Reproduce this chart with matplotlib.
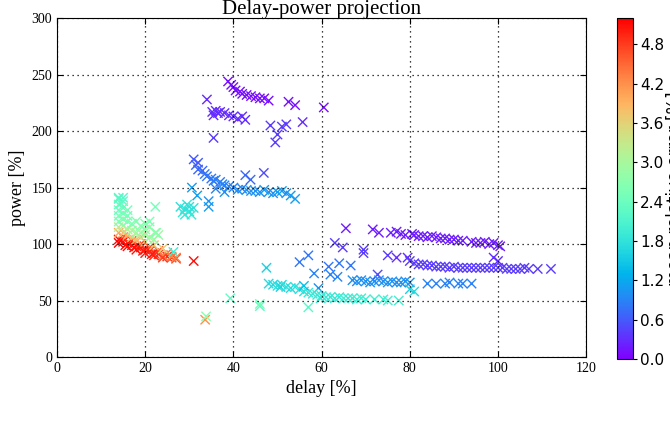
import matplotlib
matplotlib.use("Agg")
import matplotlib.pyplot as plt

# delay [%], power [%], mean relative error [%] per configuration
# left cluster (red -> yellow -> green)
delay_a = [14, 15, 16, 17, 18, 19, 20, 21, 22, 23, 24, 25, 26, 27,
           15, 17, 19, 21, 23, 25, 24, 26, 27,
           14, 16, 18, 20, 22, 24, 15.5, 17.5, 19.5, 21.5,
           14, 15, 16, 17, 18, 20, 22, 24, 19,
           14, 15, 16, 17, 18, 19, 20, 21, 22, 20, 21, 23, 22.3, 20, 21,
           14, 14, 14, 14, 14, 15, 15, 15, 15, 16, 16, 17, 18, 19, 16, 22.3, 22.5,
           14, 15, 14.5, 26.4, 31, 39.3, 33.6, 33.8, 46, 46]
power_a = [104, 102, 101, 99, 98, 97, 95, 94, 92, 91, 90, 89, 88, 87,
           106, 103, 100, 97, 94, 92, 90, 89, 88,
           101, 98, 95, 92, 90, 88, 99, 97, 94, 91,
           110, 110, 108, 106, 104, 102, 99, 96, 106,
           115, 116, 113, 112, 110, 110, 108, 106, 104, 113, 115, 108, 110, 118, 120,
           120, 125, 130, 135, 140, 138, 132, 127, 122, 125, 120, 118, 120, 116, 130, 133, 110,
           141, 141, 136, 93, 85, 52, 33, 36, 45, 47]
error_a = [5.1, 5.1, 5.0, 5.1, 5.0, 5.0, 5.1, 5.0, 5.0, 4.9, 4.8, 4.9, 4.8, 4.7,
           4.9, 4.8, 4.8, 4.7, 4.6, 4.5, 4.3, 4.3, 4.4,
           5.2, 5.1, 5.1, 5.0, 4.9, 4.8, 5.1, 5.1, 5.0, 5.0,
           4.0, 3.9, 3.9, 3.8, 3.8, 3.7, 3.7, 3.6, 3.9,
           3.2, 3.1, 3.1, 3.0, 3.0, 2.9, 3.0, 2.9, 2.9, 2.8, 2.8, 2.9, 2.8, 2.7, 2.6,
           2.6, 2.5, 2.4, 2.4, 2.3, 2.3, 2.4, 2.5, 2.6, 2.5, 2.6, 2.6, 2.6, 2.7, 2.5, 2.5, 2.7,
           2.2, 2.2, 2.3, 2.0, 5.1, 2.3, 4.2, 2.7, 2.3, 2.5]

# teal cluster near 30 %
delay_b = [28, 28.5, 29, 29.5, 30, 30.5, 31, 29, 30]
power_b = [133, 128, 131, 135, 129, 126, 132, 126, 133]
error_b = [1.8, 1.9, 1.8, 1.9, 1.8, 1.9, 1.8, 1.9, 1.8]

# blue cluster around power 150
delay_c = [31, 31.5, 32, 32, 33, 33.5, 34, 35, 35.5, 36, 37, 37.5, 38, 39, 40,
           41, 42, 43, 44, 45, 46, 47, 48, 49, 50, 51, 52, 53, 54,
           42.7, 43.9, 46.9, 30.6, 31.8, 34.4, 34.4, 36, 38]
power_c = [175, 170, 172, 166, 165, 162, 160, 158, 156, 157, 155, 153, 152, 151, 150,
           148, 149, 148, 147, 147, 146, 148, 146, 145, 146, 147, 145, 143, 140,
           161, 157, 163, 150, 143, 138, 133, 149, 146]
error_c = [0.6, 0.7, 0.6, 0.7, 0.7, 0.8, 0.8, 0.8, 0.8, 0.9, 0.8, 0.9, 0.9, 0.9, 0.9,
           1.0, 0.9, 1.0, 1.0, 1.0, 1.0, 1.1, 1.0, 1.0, 1.1, 1.1, 1.0, 1.1, 1.1,
           0.7, 0.7, 0.5, 1.1, 1.1, 1.0, 1.1, 0.9, 1.0]

# purple cluster at high power
delay_d = [38.8, 39.5, 40, 40.5, 41.5, 42, 43, 44, 45, 46, 47, 48, 52.5, 54, 60.5,
           34, 35.2, 35.5, 36, 36.5, 37, 38, 39, 40, 42.7, 41, 42, 35.5,
           48.4, 51, 50, 49.5, 55.7, 52]
power_d = [244, 241, 239, 236, 235, 233, 232, 231, 230, 229, 229, 227, 226, 223, 221,
           228, 217, 214, 218, 216, 217, 216, 214, 213, 210, 211, 213, 194,
           205, 204, 197, 190, 208, 206]
error_d = [0.1, 0.1, 0.1, 0.1, 0.1, 0.1, 0.1, 0.1, 0.1, 0.1, 0.1, 0.1, 0.1, 0.1, 0.1,
           0.3, 0.3, 0.3, 0.3, 0.3, 0.3, 0.3, 0.3, 0.3, 0.3, 0.3, 0.3, 0.4,
           0.4, 0.4, 0.4, 0.4, 0.3, 0.4]

# purple rows at mid power
delay_e = [65.5, 71.6, 73, 75.7, 77, 78, 79, 80.5, 81, 82, 83, 84, 85, 86, 87, 88, 89, 90,
           91, 92, 94, 95, 96, 97, 98, 99, 100, 100.5,
           63, 64.8, 69.5, 69.5, 75, 77, 79.5, 80, 81, 82, 83, 84, 85, 86, 87, 88, 89, 90,
           91, 92, 93, 94, 95, 96, 97, 98, 99, 100, 101, 102, 103, 104, 105, 106, 107,
           109, 112, 99, 100]
power_e = [114, 113, 110, 110, 111, 109, 108, 109, 108, 107, 107, 106, 107, 106, 105, 105, 104, 104,
           103, 103, 102, 101, 101, 102, 100, 101, 99, 98,
           101, 97, 95, 92, 90, 88, 88, 85, 83, 82, 82, 81, 81, 80, 80, 80, 79, 80,
           79, 79, 79, 79, 79, 79, 79, 79, 79, 79, 79, 78, 78, 78, 78, 79, 78,
           78, 78, 88, 85]
error_e = [0.2, 0.2, 0.2, 0.2, 0.2, 0.2, 0.2, 0.2, 0.2, 0.2, 0.2, 0.2, 0.2, 0.2, 0.2, 0.2, 0.2, 0.2,
           0.2, 0.2, 0.2, 0.2, 0.2, 0.2, 0.2, 0.2, 0.2, 0.2,
           0.4, 0.4, 0.4, 0.4, 0.4, 0.3, 0.3, 0.4, 0.4, 0.4, 0.4, 0.4, 0.4, 0.4, 0.4, 0.4, 0.4, 0.4,
           0.4, 0.4, 0.4, 0.4, 0.4, 0.4, 0.4, 0.4, 0.4, 0.4, 0.4, 0.4, 0.4, 0.4, 0.4, 0.4, 0.4,
           0.4, 0.4, 0.3, 0.3]

# blue row at power ~65
delay_f = [55, 57, 58.3, 61.6, 64, 66.6, 62, 63.6, 67, 68, 69, 70, 71, 72, 72.7, 73, 74,
           75, 76, 77, 78, 79, 80, 84, 86, 88, 89, 91, 92, 94, 59.3]
power_f = [84, 90, 74, 80, 83, 81, 73, 71, 68, 67, 68, 67, 66, 67, 73, 68, 67,
           66, 67, 66, 66, 67, 66, 65, 65, 65, 66, 65, 65, 65, 61]
error_f = [0.8, 0.8, 0.9, 0.8, 0.8, 0.8, 0.9, 0.9, 1.0, 1.0, 1.0, 1.0, 1.0, 1.0, 0.5, 1.0, 1.0,
           1.0, 1.0, 1.0, 1.0, 1.0, 1.0, 0.9, 0.9, 0.9, 0.9, 0.9, 0.9, 0.9, 1.0]

# teal row at power ~50-65
delay_g = [47.5, 48, 49, 50, 50.7, 51, 52, 53, 54, 55, 56, 57, 58, 59, 59.8, 60, 61,
           62, 63, 64, 65, 66, 67, 68, 69, 70, 72, 74, 75, 77.5, 57, 81, 80, 56]
power_g = [79, 65, 64, 63, 62, 64, 62, 61, 62, 60, 58, 57, 56, 55, 52, 54, 53,
           53, 52, 53, 52, 52, 52, 51, 52, 51, 51, 51, 50, 50, 44, 58, 60, 63]
error_g = [1.6, 1.7, 1.7, 1.8, 1.6, 1.7, 1.8, 1.7, 1.8, 1.8, 1.8, 1.9, 1.9, 1.9, 1.9, 1.9, 1.9,
           1.9, 1.9, 1.9, 2.0, 1.9, 2.0, 2.0, 2.0, 2.0, 2.0, 2.0, 2.0, 2.0, 2.2, 1.7, 1.6, 1.4]

delay = delay_a + delay_b + delay_c + delay_d + delay_e + delay_f + delay_g
power = power_a + power_b + power_c + power_d + power_e + power_f + power_g
error = error_a + error_b + error_c + error_d + error_e + error_f + error_g

cbar_ticks = [0.0, 0.6, 1.2, 1.8, 2.4, 3.0, 3.6, 4.2, 4.8]

serif = "Liberation Serif"

fig = plt.figure(figsize=(6.7, 4.23), dpi=100)
ax = fig.add_axes([0.085, 0.156, 0.79, 0.801])
cax = fig.add_axes([0.921, 0.151, 0.024, 0.806])

sc = ax.scatter(delay, power, c=error, cmap="rainbow", vmin=0, vmax=5.2,
                marker="x", s=45, linewidths=1.0)

ax.set_xlim(0, 120)
ax.set_ylim(0, 300)
ax.grid(True, color="black", linestyle=(0, (1, 3)), linewidth=0.9)
ax.tick_params(direction="in", top=True, right=True, length=4, labelsize=10)
for lab in ax.get_xticklabels() + ax.get_yticklabels():
    lab.set_family(serif)
ax.set_xlabel("delay [%]", family=serif, fontsize=13)
ax.set_ylabel("power [%]", family=serif, fontsize=13)
ax.set_title("Delay-power projection", family=serif, fontsize=15, pad=3)

cb = fig.colorbar(sc, cax=cax, ticks=cbar_ticks)
cb.ax.tick_params(labelsize=11, length=3, pad=2)
cb.set_label("mean relative error [%]", fontsize=12, labelpad=1)

fig.savefig("out.png", dpi=100)
